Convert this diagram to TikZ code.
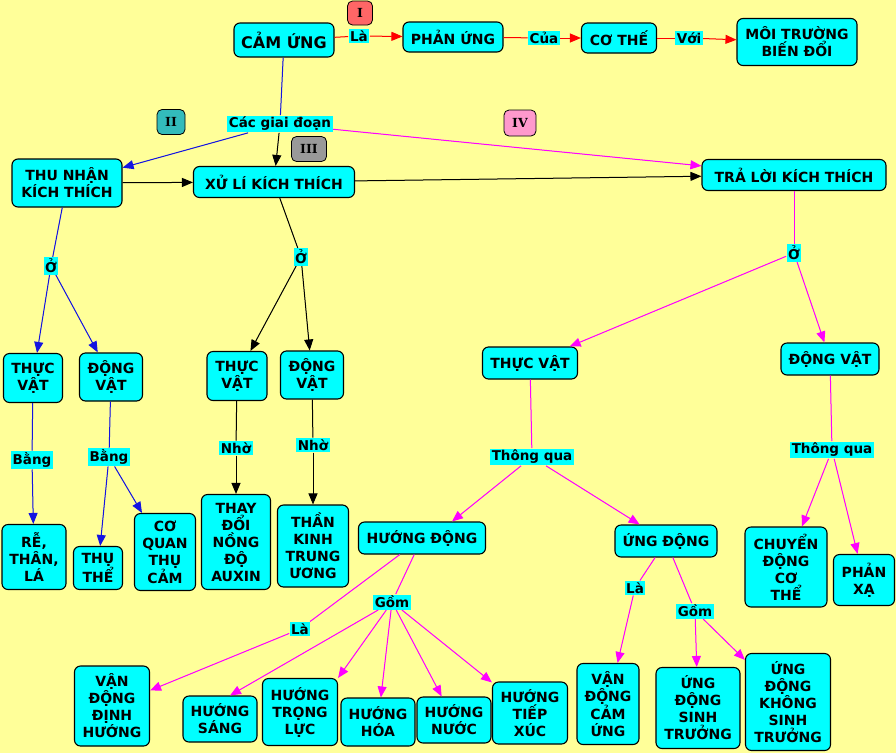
\documentclass[tikz,border=0pt]{standalone}
\usepackage{fontspec}
\newfontfamily\mapfont{DejaVu Sans}
\newfontfamily\badgefont{DejaVu Serif}
\usetikzlibrary{arrows.meta}

\definecolor{bgyellow}{RGB}{255,255,153}
\definecolor{boxcyan}{RGB}{0,255,255}
\definecolor{linkred}{RGB}{255,0,0}
\definecolor{linkblue}{RGB}{20,20,225}
\definecolor{linkmag}{RGB}{255,0,255}
\definecolor{badgeI}{RGB}{255,102,102}
\definecolor{badgeII}{RGB}{51,187,187}
\definecolor{badgeIII}{RGB}{153,153,153}
\definecolor{badgeIV}{RGB}{255,153,204}

\tikzset{
  every picture/.style={line width=1pt},
  concept/.style={draw=black, fill=boxcyan, rounded corners=6pt, line width=1.1pt,
    align=center, inner sep=2pt, font=\mapfont\bfseries\fontsize{14}{17}\selectfont},
  linkword/.style={fill=boxcyan, inner sep=1.5pt, font=\mapfont\bfseries\fontsize{13.5}{16}\selectfont},
  badge/.style={draw=black, rounded corners=5pt, line width=0.8pt, inner sep=0pt,
    font=\badgefont\bfseries\fontsize{12.5}{14}\selectfont},
  tip/.style={-{Triangle[length=11pt,width=9pt]}},
  redlink/.style={draw=linkred, fill=linkred},
  bluelink/.style={draw=linkblue, fill=linkblue},
  blacklink/.style={draw=black, fill=black},
  maglink/.style={draw=linkmag, fill=linkmag}
}

\begin{document}
\begin{tikzpicture}[x=1pt,y=1pt,yscale=-1,xscale=1]
\useasboundingbox (0,0) rectangle (896,753);
\fill[bgyellow] (0,0) rectangle (896,753);

% Top row
\node[concept, font=\mapfont\bfseries\fontsize{16}{19}\selectfont, minimum width=100pt, minimum height=34pt] (camung) at (284,40) {CẢM ỨNG};
\node[badge, fill=badgeI, minimum width=25pt, minimum height=24pt] (stageI) at (360,13) {I};
\node[linkword] (la0) at (359,36) {Là};
\node[concept, minimum width=100pt, minimum height=30pt] (phanung) at (453,37) {PHẢN ỨNG};
\node[linkword] (cua) at (544,38) {Của};
\node[concept, minimum width=75pt, minimum height=30pt] (cothe) at (619,38) {CƠ THẾ};
\node[linkword] (voi) at (689,38) {Với};
\node[concept, minimum width=120pt, minimum height=47pt] (moitruong) at (797,42) {MÔI TRƯỜNG\\BIẾN ĐỔI};

\draw[redlink] (camung) -- (la0);
\draw[redlink,tip] (la0) -- (phanung);
\draw[redlink] (phanung) -- (cua);
\draw[redlink,tip] (cua) -- (cothe);
\draw[redlink] (cothe) -- (voi);
\draw[redlink,tip] (voi) -- (moitruong);

% Stages
\node[linkword] (giaidoan) at (280,124) {Các giai đoạn};
\node[badge, fill=badgeII, minimum width=28pt, minimum height=25pt] (stageII) at (171,122) {II};
\node[badge, fill=badgeIII, minimum width=35pt, minimum height=25pt] (stageIII) at (309,149) {III};
\node[badge, fill=badgeIV, minimum width=32pt, minimum height=26pt] (stageIV) at (520,123) {IV};
\node[concept, minimum width=110pt, minimum height=48pt] (thunhan) at (67,183) {THU NHẬN\\KÍCH THÍCH};
\node[concept, minimum width=161pt, minimum height=31pt] (xuli) at (274,182) {XỬ LÍ KÍCH THÍCH};
\node[concept, minimum width=184pt, minimum height=31pt] (traloi) at (794,175) {TRẢ LỜI KÍCH THÍCH};

\draw[bluelink] (camung) -- (giaidoan);
\draw[bluelink,tip] (giaidoan) -- (thunhan);
\draw[blacklink,tip] (giaidoan) -- (xuli);
\draw[maglink,tip] (giaidoan) -- (traloi);
\draw[blacklink,tip] (thunhan) -- (xuli);
\draw[blacklink,tip] (xuli) -- (traloi);

% Thu nhan kich thich
\node[linkword] (o1) at (51,266) {Ở};
\node[concept, minimum width=59pt, minimum height=49pt] (thucvat1) at (33,378) {THỰC\\VẬT};
\node[concept, minimum width=63pt, minimum height=48pt] (dongvat1) at (111,377) {ĐỘNG\\VẬT};
\node[linkword] (bang1) at (32,460) {Bằng};
\node[linkword] (bang2) at (109,457) {Bằng};
\node[concept, minimum width=64pt, minimum height=65pt] (rethan) at (34,557) {RỄ,\\THÂN,\\LÁ};
\node[concept, minimum width=49pt, minimum height=43pt] (thuthe) at (98,568) {THỤ\\THỂ};
\node[concept, minimum width=61pt, minimum height=77pt] (coquan) at (165,552) {CƠ\\QUAN\\THỤ\\CẢM};

\draw[bluelink] (thunhan) -- (o1);
\draw[bluelink,tip] (o1) -- (thucvat1);
\draw[bluelink,tip] (o1) -- (dongvat1);
\draw[bluelink] (thucvat1) -- (bang1);
\draw[bluelink,tip] (bang1) -- (rethan);
\draw[bluelink] (dongvat1) -- (bang2);
\draw[bluelink,tip] (bang2) -- (thuthe);
\draw[bluelink,tip] (bang2) -- (coquan);

% Xu li kich thich
\node[linkword] (o2) at (301,257) {Ở};
\node[concept, minimum width=60pt, minimum height=49pt] (thucvat2) at (237,376) {THỰC\\VẬT};
\node[concept, minimum width=63pt, minimum height=48pt] (dongvat2) at (312,375) {ĐỘNG\\VẬT};
\node[linkword] (nho1) at (236,448) {Nhờ};
\node[linkword] (nho2) at (313,445) {Nhờ};
\node[concept, minimum width=69pt, minimum height=95pt] (auxin) at (236,542) {THAY\\ĐỔI\\NỒNG\\ĐỘ\\AUXIN};
\node[concept, minimum width=71pt, minimum height=82pt] (thankinh) at (313,546) {THẦN\\KINH\\TRUNG\\ƯƠNG};

\draw[blacklink] (xuli) -- (o2);
\draw[blacklink,tip] (o2) -- (thucvat2);
\draw[blacklink,tip] (o2) -- (dongvat2);
\draw[blacklink] (thucvat2) -- (nho1);
\draw[blacklink,tip] (nho1) -- (auxin);
\draw[blacklink] (dongvat2) -- (nho2);
\draw[blacklink,tip] (nho2) -- (thankinh);

% Tra loi kich thich
\node[linkword] (o3) at (794,253) {Ở};
\node[concept, minimum width=95pt, minimum height=32pt] (thucvat3) at (530,363) {THỰC VẬT};
\node[concept, minimum width=98pt, minimum height=32pt] (dongvat3) at (830,359) {ĐỘNG VẬT};
\node[linkword] (thongqua1) at (532,457) {Thông qua};
\node[linkword] (thongqua2) at (832,450) {Thông qua};
\node[concept, minimum width=127pt, minimum height=32pt] (huongdong) at (422,538) {HƯỚNG ĐỘNG};
\node[concept, minimum width=102pt, minimum height=32pt] (ungdong) at (666,541) {ỨNG ĐỘNG};
\node[concept, minimum width=82pt, minimum height=80pt] (chuyendong) at (786,567) {CHUYỂN\\ĐỘNG\\CƠ\\THỂ};
\node[concept, minimum width=61pt, minimum height=51pt] (phanxa) at (864,580) {PHẢN\\XẠ};

\draw[maglink] (traloi) -- (o3);
\draw[maglink,tip] (o3) -- (thucvat3);
\draw[maglink,tip] (o3) -- (dongvat3);
\draw[maglink] (thucvat3) -- (thongqua1);
\draw[maglink,tip] (thongqua1) -- ([xshift=30pt]huongdong.north);
\draw[maglink,tip] (thongqua1) -- (ungdong);
\draw[maglink] (dongvat3) -- (thongqua2);
\draw[maglink,tip] (thongqua2) -- (chuyendong);
\draw[maglink,tip] (thongqua2) -- (phanxa);

% Huong dong
\node[linkword] (la1) at (300,629) {Là};
\node[linkword] (gom1) at (392,602) {Gồm};
\node[concept, minimum width=75pt, minimum height=80pt] (dinhhuong) at (112,706) {VẬN\\ĐỘNG\\ĐỊNH\\HƯỚNG};
\node[concept, minimum width=74pt, minimum height=46pt] (sang) at (220,719) {HƯỚNG\\SÁNG};
\node[concept, minimum width=75pt, minimum height=67pt] (trongluc) at (300,712) {HƯỚNG\\TRỌNG\\LỰC};
\node[concept, minimum width=74pt, minimum height=48pt] (hoa) at (378,722) {HƯỚNG\\HÓA};
\node[concept, minimum width=74pt, minimum height=46pt] (nuoc) at (454,720) {HƯỚNG\\NƯỚC};
\node[concept, minimum width=75pt, minimum height=62pt] (tiepxuc) at (530,713) {HƯỚNG\\TIẾP\\XÚC};

\draw[maglink] (huongdong) -- (la1);
\draw[maglink,tip] (la1) -- (dinhhuong);
\draw[maglink] (huongdong) -- (gom1);
\draw[maglink,tip] (gom1) -- ([xshift=10pt]sang.north);
\draw[maglink,tip] (gom1) -- (trongluc.north east);
\draw[maglink,tip] (gom1) -- (hoa);
\draw[maglink,tip] (gom1) -- (nuoc);
\draw[maglink,tip] (gom1) -- (tiepxuc);

% Ung dong
\node[linkword] (la2) at (635,588) {Là};
\node[linkword] (gom2) at (695,611) {Gồm};
\node[concept, minimum width=62pt, minimum height=81pt] (camung2) at (608,704) {VẬN\\ĐỘNG\\CẢM\\ỨNG};
\node[concept, minimum width=84pt, minimum height=81pt] (sinhtruong) at (698,708) {ỨNG\\ĐỘNG\\SINH\\TRƯỞNG};
\node[concept, minimum width=85pt, minimum height=97pt] (khongsinh) at (788,702) {ỨNG\\ĐỘNG\\KHÔNG\\SINH\\TRƯỞNG};

\draw[maglink] (ungdong) -- (la2);
\draw[maglink,tip] (la2) -- (camung2);
\draw[maglink] (ungdong) -- (gom2);
\draw[maglink,tip] (gom2) -- (sinhtruong);
\draw[maglink,tip] (gom2) -- (khongsinh);

\end{tikzpicture}
\end{document}
